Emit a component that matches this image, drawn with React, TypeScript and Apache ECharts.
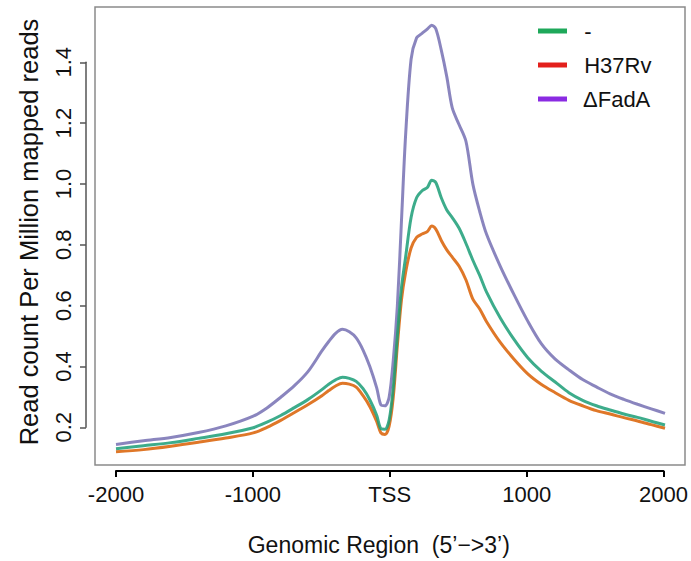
import React, { useEffect, useRef } from 'react';
import * as echarts from 'echarts';

const positions = [-2000, -1800, -1600, -1400, -1200, -1000, -900, -800, -700, -600, -500, -450, -400, -350, -300, -250, -200, -150, -100, -70, -40, -10, 20, 50, 80, 110, 150, 190, 230, 270, 300, 330, 370, 410, 450, 500, 550, 600, 650, 700, 800, 900, 1000, 1100, 1200, 1300, 1400, 1500, 1600, 1700, 1800, 1900, 2000];

const controlValues = [0.131, 0.141, 0.151, 0.165, 0.18, 0.2, 0.218, 0.24, 0.266, 0.293, 0.325, 0.343, 0.357, 0.366, 0.362, 0.352, 0.328, 0.291, 0.24, 0.197, 0.195, 0.225, 0.33, 0.5, 0.66, 0.76, 0.89, 0.955, 0.978, 0.99, 1.013, 1.005, 0.955, 0.915, 0.89, 0.855, 0.805, 0.75, 0.7, 0.645, 0.56, 0.49, 0.43, 0.385, 0.35, 0.315, 0.29, 0.272, 0.258, 0.245, 0.234, 0.221, 0.209];

const h37rvValues = [0.121, 0.128, 0.139, 0.152, 0.166, 0.183, 0.201, 0.224, 0.25, 0.276, 0.305, 0.322, 0.337, 0.346, 0.343, 0.333, 0.305, 0.269, 0.22, 0.183, 0.178, 0.205, 0.3, 0.47, 0.62, 0.71, 0.79, 0.825, 0.836, 0.845, 0.862, 0.852, 0.815, 0.784, 0.76, 0.73, 0.685, 0.622, 0.59, 0.548, 0.48, 0.425, 0.377, 0.342, 0.315, 0.29, 0.272, 0.256, 0.245, 0.233, 0.222, 0.21, 0.198];

const fadaValues = [0.145, 0.157, 0.168, 0.184, 0.206, 0.238, 0.265, 0.3, 0.338, 0.385, 0.452, 0.483, 0.51, 0.523, 0.515, 0.495, 0.455, 0.4, 0.33, 0.275, 0.272, 0.3, 0.42, 0.6, 0.88, 1.16, 1.41, 1.48, 1.495, 1.51, 1.522, 1.51, 1.44, 1.353, 1.25, 1.195, 1.14, 1.0, 0.91, 0.835, 0.73, 0.637, 0.55, 0.475, 0.425, 0.39, 0.358, 0.334, 0.311, 0.293, 0.277, 0.262, 0.247];

const seriesNames = ['-', 'H37Rv', 'ΔFadA'];
const lineColors = ['#1B9E77', '#D95F02', '#7570B3'];
const legendColors = ['#1EA85A', '#E3201C', '#8A2BE2'];

const FONT = "'Liberation Sans', Arial, sans-serif";

export default function App() {
  const ref = useRef<HTMLDivElement>(null);
  useEffect(() => {
    if (!ref.current) return;
    const chart = echarts.init(ref.current, undefined, { renderer: 'svg' });
    const valueSets = [controlValues, h37rvValues, fadaValues];
    const series = seriesNames.map((name, i) => ({
      name,
      type: 'line',
      xAxisIndex: 0,
      yAxisIndex: 0,
      data: positions.map((p, j) => [p, valueSets[i][j]]),
      showSymbol: false,
      smooth: 0.3,
      lineStyle: { color: lineColors[i], width: 3, opacity: 0.85 },
      itemStyle: { color: lineColors[i] },
      z: 3 - i,
    }));
    chart.setOption({
      animation: false,
      backgroundColor: '#ffffff',
      textStyle: { fontFamily: FONT },
      legend: {
        orient: 'vertical',
        left: 533,
        top: 15,
        itemWidth: 29,
        itemHeight: 5,
        itemGap: 12,
        icon: 'rect',
        textStyle: { fontSize: 22, color: '#111', fontFamily: FONT },
        formatter: (n: string) => '  ' + n,
        data: seriesNames.map((n, i) => ({ name: n, icon: 'rect', itemStyle: { color: legendColors[i] } })),
      },
      grid: [
        { left: 95, right: 6, top: 7, bottom: 96, show: true, borderColor: '#8a8a8a', borderWidth: 1.5, backgroundColor: 'transparent' },
        { left: 116, right: 26, top: 62.3, bottom: 133.3 },
      ],
      xAxis: [
        { type: 'value', gridIndex: 0, min: -2153, max: 2145.7, show: false },
        {
          type: 'value', gridIndex: 1, min: -2000, max: 2000, interval: 1000, position: 'bottom', offset: 43.7,
          axisLine: { show: true, onZero: false, lineStyle: { color: '#000', width: 2 } },
          axisTick: { show: true, length: 6, lineStyle: { color: '#000', width: 2 } },
          splitLine: { show: false },
          axisLabel: { fontSize: 22, color: '#111', margin: 12, fontFamily: FONT, formatter: (v: number) => (v === 0 ? 'TSS' : String(v)) },
          name: 'Genomic Region  (5’−>3’)', nameLocation: 'middle', nameGap: 62,
          nameTextStyle: { fontSize: 23, color: '#111', fontFamily: FONT, padding: [0, 22, 0, 0] },
        },
      ],
      yAxis: [
        {
          type: 'value', gridIndex: 0, min: 0.0775, max: 1.5816,
          axisLine: { show: false }, axisTick: { show: false }, axisLabel: { show: false }, splitLine: { show: false },
          name: 'Read count Per Million mapped reads', nameLocation: 'middle', nameGap: 53, nameRotate: 90,
          nameTextStyle: { fontSize: 25.5, color: '#111', fontFamily: FONT, padding: [0, 0, 0, 8] },
        },
        {
          type: 'value', gridIndex: 1, min: 0.2, max: 1.4, interval: 0.2, position: 'left', offset: 30,
          axisLine: { show: true, onZero: false, lineStyle: { color: '#555', width: 1.5 } },
          axisTick: { show: true, length: 6, lineStyle: { color: '#555', width: 1.5 } },
          splitLine: { show: false },
          axisLabel: { fontSize: 22, color: '#111', margin: 12, rotate: 90, fontFamily: FONT, formatter: (v: number) => v.toFixed(1) },
        },
      ],
      series,
    });
    return () => chart.dispose();
  }, []);
  return <div ref={ref} style={{ position: 'fixed', left: 0, top: 0, width: 691, height: 561 }} />;
}
